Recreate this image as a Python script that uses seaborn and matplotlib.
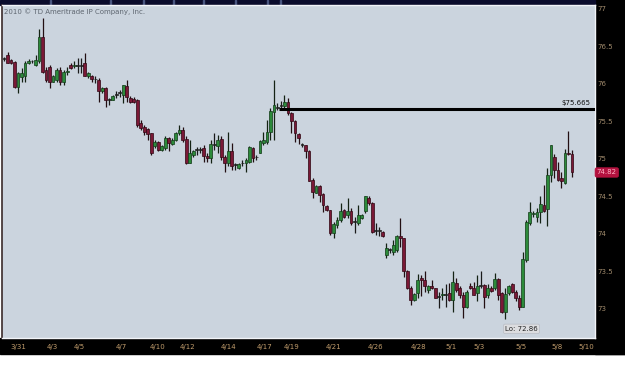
import numpy as np
import pandas as pd
import matplotlib
matplotlib.use("Agg")
import matplotlib.pyplot as plt
from matplotlib.patches import Rectangle
import seaborn as sns

# ---------------- data ----------------
opens = [76.33, 76.39, 76.32, 76.29, 75.96, 76.09, 76.10, 76.28, 76.30, 76.25,
         76.30, 76.63, 76.19, 76.23, 76.03, 76.05, 76.19, 76.03, 76.16, 76.25,
         76.24, 76.24, 76.24, 76.28, 76.10, 76.11, 76.06, 76.05, 75.90, 75.94,
         75.79, 75.79, 75.85, 75.88, 75.85, 75.97, 75.81, 75.80, 75.79, 75.48,
         75.43, 75.40, 75.34, 75.17, 75.23, 75.12, 75.14, 75.28, 75.20, 75.25,
         75.34, 75.39, 75.27, 74.95, 75.05, 75.12, 75.12, 75.14, 75.04, 75.01,
         75.19, 75.17, 75.26, 75.02, 74.94, 75.10, 74.92, 74.88, 74.94, 74.94,
         74.96, 75.14, 75.02, 75.08, 75.21, 75.22, 75.36, 75.63, 75.68, 75.71,
         75.70, 75.76, 75.61, 75.51, 75.33, 75.19, 75.19, 75.11, 74.72, 74.55,
         74.64, 74.53, 74.37, 74.32, 74.01, 74.12, 74.19, 74.32, 74.25, 74.30,
         74.16, 74.14, 74.21, 74.30, 74.48, 74.41, 74.04, 74.04, 74.03, 73.72,
         73.79, 73.76, 73.79, 73.97, 73.94, 73.51, 73.28, 73.12, 73.21, 73.41,
         73.39, 73.25, 73.31, 73.28, 73.16, 73.19, 73.19, 73.21, 73.12, 73.34,
         73.28, 73.19, 73.02, 73.30, 73.28, 73.21, 73.31, 73.32, 73.18, 73.28,
         73.28, 73.40, 73.21, 72.96, 73.21, 73.33, 73.23, 73.14, 73.03, 73.65,
         74.14, 74.26, 74.23, 74.29, 74.38, 74.33, 74.79, 75.03, 74.85, 74.74,
         74.68, 75.08, 75.06]
highs = [76.36, 76.42, 76.33, 76.30, 76.16, 76.21, 76.30, 76.33, 76.32, 76.39,
         76.73, 76.88, 76.23, 76.25, 76.12, 76.21, 76.23, 76.19, 76.23, 76.28,
         76.30, 76.34, 76.34, 76.41, 76.16, 76.12, 76.10, 76.08, 75.96, 75.96,
         75.81, 75.85, 75.90, 75.92, 75.99, 76.05, 75.84, 75.82, 75.80, 75.52,
         75.45, 75.41, 75.35, 75.25, 75.24, 75.19, 75.30, 75.29, 75.28, 75.36,
         75.45, 75.43, 75.30, 75.25, 75.12, 75.16, 75.16, 75.19, 75.08, 75.25,
         75.34, 75.32, 75.30, 75.05, 75.36, 75.21, 74.94, 74.94, 74.99, 75.01,
         75.17, 75.16, 75.05, 75.25, 75.36, 75.52, 75.68, 76.05, 75.74, 75.77,
         75.85, 75.81, 75.63, 75.52, 75.35, 75.21, 75.19, 75.12, 74.74, 74.65,
         74.65, 74.54, 74.39, 74.32, 74.16, 74.23, 74.41, 74.33, 74.48, 74.34,
         74.23, 74.39, 74.27, 74.51, 74.50, 74.42, 74.14, 74.09, 74.04, 73.88,
         73.81, 73.92, 73.99, 74.21, 73.95, 73.52, 73.30, 73.21, 73.46, 73.45,
         73.50, 73.32, 73.39, 73.28, 73.23, 73.28, 73.33, 73.34, 73.50, 73.41,
         73.30, 73.23, 73.25, 73.34, 73.36, 73.45, 73.50, 73.33, 73.33, 73.30,
         73.48, 73.41, 73.23, 73.28, 73.32, 73.34, 73.25, 73.18, 73.76, 74.19,
         74.42, 74.30, 74.34, 74.50, 74.65, 74.88, 75.19, 75.06, 74.96, 74.83,
         75.13, 75.37, 75.12]
lows = [76.31, 76.28, 76.27, 75.94, 75.88, 76.03, 76.03, 76.27, 76.28, 76.24,
        76.28, 76.14, 76.03, 75.94, 76.02, 76.03, 75.99, 75.99, 76.12, 76.20,
        76.21, 76.14, 76.14, 76.10, 76.08, 76.03, 76.01, 75.76, 75.88, 75.69,
        75.72, 75.78, 75.81, 75.83, 75.74, 75.76, 75.75, 75.75, 75.42, 75.39,
        75.32, 75.25, 75.05, 75.14, 75.10, 75.11, 75.12, 75.10, 75.19, 75.24,
        75.32, 75.23, 74.93, 74.94, 75.02, 75.05, 75.08, 74.96, 74.96, 74.95,
        75.12, 75.08, 74.99, 74.83, 74.90, 74.85, 74.85, 74.86, 74.90, 74.83,
        74.94, 74.96, 74.99, 75.08, 75.19, 75.20, 75.25, 75.25, 75.65, 75.68,
        75.68, 75.59, 75.34, 75.23, 75.20, 75.16, 75.01, 74.70, 74.48, 74.54,
        74.43, 74.29, 74.30, 73.99, 73.94, 74.08, 74.16, 74.21, 74.21, 74.12,
        74.01, 74.12, 74.20, 74.28, 74.39, 74.01, 73.99, 73.97, 73.96, 73.68,
        73.74, 73.72, 73.76, 73.83, 73.43, 73.27, 73.05, 73.11, 73.14, 73.17,
        73.23, 73.21, 73.27, 73.14, 73.01, 73.12, 73.03, 73.10, 72.96, 73.23,
        73.14, 72.88, 73.01, 73.27, 73.18, 73.10, 73.28, 73.01, 73.14, 73.23,
        73.25, 73.12, 72.94, 72.86, 73.19, 73.21, 73.10, 72.99, 73.02, 73.63,
        74.12, 74.23, 74.16, 74.14, 74.29, 74.11, 74.69, 74.74, 74.70, 74.61,
        74.66, 75.05, 74.76]
closes = [76.33, 76.28, 76.28, 75.96, 76.14, 76.14, 76.28, 76.31, 76.30, 76.32,
          76.63, 76.16, 76.05, 76.03, 76.10, 76.19, 76.03, 76.16, 76.17, 76.21,
          76.25, 76.24, 76.24, 76.10, 76.14, 76.06, 76.06, 75.90, 75.94, 75.79,
          75.79, 75.84, 75.85, 75.88, 75.99, 75.83, 75.76, 75.76, 75.45, 75.41,
          75.36, 75.33, 75.08, 75.23, 75.12, 75.17, 75.28, 75.21, 75.25, 75.34,
          75.39, 75.25, 74.95, 75.08, 75.10, 75.12, 75.12, 75.04, 75.01, 75.20,
          75.19, 75.25, 75.02, 74.95, 75.10, 74.90, 74.92, 74.93, 74.94, 74.99,
          75.16, 75.01, 75.02, 75.24, 75.25, 75.36, 75.64, 75.72, 75.68, 75.71,
          75.76, 75.61, 75.50, 75.34, 75.28, 75.19, 75.10, 74.71, 74.56, 74.64,
          74.52, 74.39, 74.32, 74.01, 74.13, 74.19, 74.30, 74.23, 74.30, 74.14,
          74.16, 74.25, 74.25, 74.50, 74.41, 74.03, 74.04, 74.04, 73.97, 73.81,
          73.79, 73.85, 73.97, 73.94, 73.50, 73.28, 73.12, 73.20, 73.39, 73.39,
          73.31, 73.30, 73.28, 73.15, 73.16, 73.20, 73.19, 73.12, 73.36, 73.25,
          73.18, 73.03, 73.23, 73.28, 73.19, 73.30, 73.31, 73.16, 73.28, 73.24,
          73.40, 73.19, 72.96, 73.20, 73.30, 73.22, 73.14, 73.03, 73.67, 74.16,
          74.29, 74.28, 74.29, 74.40, 74.31, 74.79, 75.18, 74.85, 74.72, 74.70,
          75.08, 75.06, 74.82]

date_labels = ["3/31", "4/3", "4/5", "4/7", "4/10", "4/12", "4/14", "4/17", "4/19",
               "4/21", "4/26", "4/28", "5/1", "5/3", "5/5", "5/8", "5/10"]
date_bar_pos = [4.0, 13.7, 21.4, 33.4, 43.9, 52.2, 63.9, 74.2, 82.1,
                94.1, 106.1, 118.1, 127.5, 135.5, 147.5, 157.7, 166.0]
price_ticks = [73, 73.5, 74, 74.5, 75, 75.5, 76, 76.5, 77]
price_tick_labels = ["73", "73.5", "74", "74.5", "75", "75.5", "76", "76.5", "77"]
level_price = 75.665
level_start_bar = 78.5

df = pd.DataFrame({"open": opens, "high": highs, "low": lows, "close": closes})
df["bar"] = np.arange(len(df))
df["up"] = df["close"] > df["open"]
df["down"] = df["close"] < df["open"]

# ---------------- style ----------------
sns.set_theme(style="dark")
plt.rcParams["font.family"] = ["DejaVu Sans"]

W, H = 625, 382
fig = plt.figure(figsize=(W / 100, H / 100), dpi=100, facecolor="white")

# frame decorations (black bands, navy strip) drawn beneath the axes
def frame_rect(x0, y0, w, h, color):
    fig.patches.append(Rectangle((x0 / W, 1 - (y0 + h) / H), w / W, h / H,
                                 transform=fig.transFigure, color=color, zorder=-5))

frame_rect(0, 338, W, 16, "black")
frame_rect(595, 0, 30, 354, "black")
frame_rect(0, 0, 595, 5, "#0b0c2c")
for sx in [50, 110, 143, 173, 203, 235, 267, 280]:
    frame_rect(sx, 0, 1, 5, "#4a5680")

ax = fig.add_axes([2 / W, (H - 338) / H, 593 / W, 333 / H])
ax.set_facecolor("#cbd4de")

up_face, up_edge = "#2c8a3a", "#123a18"
dn_face, dn_edge = "#7a1836", "#300612"
body_w = 0.8

# wicks
wick_colors = np.where(df["up"], "#142214", np.where(df["down"], "#220e12", "#1a1a1a"))
ax.vlines(df["bar"], df["low"], df["high"], colors=wick_colors, linewidth=0.9, zorder=2)

# bodies
bottoms = df[["open", "close"]].min(axis=1)
heights = (df["close"] - df["open"]).abs().clip(lower=0.012)
faces = np.where(df["up"], up_face, np.where(df["down"], dn_face, "#202020"))
edges = np.where(df["up"], up_edge, np.where(df["down"], dn_edge, "#202020"))
ax.bar(df["bar"], heights, bottom=bottoms, width=body_w, color=faces,
       edgecolor=edges, linewidth=0.5, zorder=3)

# horizontal level line
xmin, xmax = -0.57, 168.57
ax.hlines(level_price, level_start_bar, xmax, colors="black", linewidth=2.2, zorder=4)
ax.annotate(f"${level_price:.3f}", xy=(0.992, level_price), xycoords=("axes fraction", "data"),
            xytext=(0, 2.5), textcoords="offset points", ha="right", va="bottom",
            fontsize=5, color="#111111")

# low label
lo_idx = int(df["low"].idxmin())
lo_val = df["low"].min()
ax.text(lo_idx + 4.6, lo_val - 0.125, f"Lo: {lo_val:.2f}", ha="center", va="center",
        fontsize=5, color="#222222",
        bbox=dict(boxstyle="round,pad=0.25", facecolor="#dcdde0", edgecolor="#b8bcc4",
                  linewidth=0.5))

# last price tag
last = closes[-1]
ax.annotate(f"{last:.2f}", xy=(1.0, last), xycoords=("axes fraction", "data"),
            xytext=(8.5, 0), textcoords="offset points", ha="center", va="center",
            fontsize=5, color="#ffb3c6", annotation_clip=False, zorder=10,
            bbox=dict(boxstyle="round,pad=0.25", facecolor="#b3123f",
                      edgecolor="#b3123f", linewidth=0.5))

ax.set_xlim(xmin, xmax)
ax.set_ylim(72.613, 77.053)

ax.yaxis.tick_right()
ax.set_yticks(price_ticks)
ax.set_yticklabels(price_tick_labels)
ax.set_xticks(date_bar_pos)
ax.set_xticklabels(date_labels)
ax.tick_params(axis="y", length=0, pad=2, labelsize=5, labelcolor="#a08a6c")
ax.tick_params(axis="x", length=0, pad=4.2, labelsize=5, labelcolor="#c09c6c")
ax.grid(False)
ax.set_xlabel("")
ax.set_ylabel("")

for side in ["top", "right", "bottom"]:
    ax.spines[side].set_visible(True)
    ax.spines[side].set_color("#f2f4f8")
    ax.spines[side].set_linewidth(1.0)
ax.spines["left"].set_visible(True)
ax.spines["left"].set_color("#3a2a2a")
ax.spines["left"].set_linewidth(1.2)

fig.text(4 / W, 1 - 11.5 / H, "2010 \u00a9 TD Ameritrade IP Company, Inc.",
         fontsize=5, color="#5e6670", ha="left", va="center")

fig.savefig("out.png", dpi=100, facecolor="white")
